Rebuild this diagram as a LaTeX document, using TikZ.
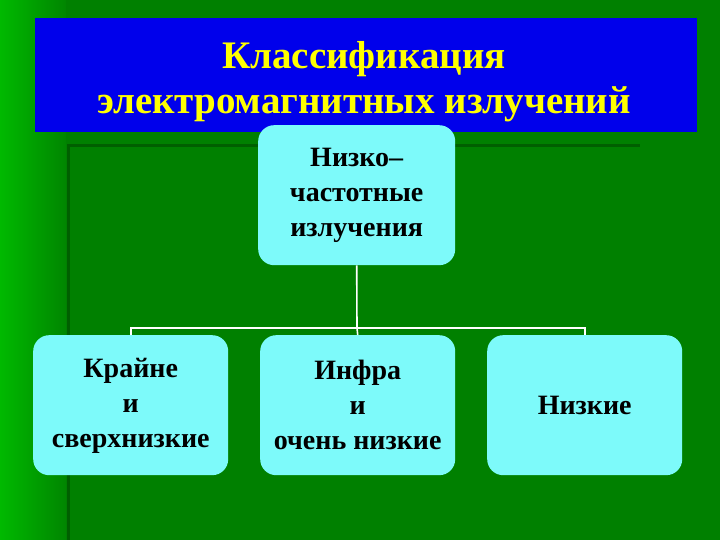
\documentclass[tikz,border=0pt]{standalone}
\usepackage{fontspec}
\setmainfont{Liberation Serif}
\definecolor{bggreen}{RGB}{0,128,0}
\definecolor{litegreen}{RGB}{0,185,0}
\definecolor{darkline}{RGB}{0,95,0}
\definecolor{boxcyan}{RGB}{125,250,250}
\definecolor{titleblue}{RGB}{0,0,235}
\definecolor{titleyellow}{RGB}{255,255,0}
\tikzset{
  box/.style={draw=none,fill=boxcyan,rounded corners=16pt,minimum width=195pt,minimum height=140pt,anchor=north west,align=center,font=\bfseries\fontsize{28}{35}\selectfont,inner sep=0pt},
  conn/.style={draw=white,line width=1.6pt}
}
\begin{document}
\begin{tikzpicture}[x=1pt,y=-1pt]
\useasboundingbox (0,0) rectangle (720,540);
\fill[bggreen] (0,0) rectangle (720,540);
\shade[left color=litegreen,right color=bggreen!90!litegreen] (0,0) rectangle (66,540);
\draw[darkline,line width=3pt] (68,540) -- (68,146) -- (640,146);
\node[fill=titleblue,minimum width=662pt,minimum height=114pt,anchor=north west,inner sep=0pt] (title) at (35,18) {};
\node[text=titleyellow,font=\bfseries\fontsize{39}{45}\selectfont,align=center] (titletext) at (364,82) {Классификация\\электромагнитных излучений};
\node[box,minimum width=197pt] (top) at (258,125) {Низко–\\частотные\\излучения};
\node[box] (b1) at (33,335) {\raisebox{10pt}{\begin{tabular}{@{}c@{}}Крайне\\и\\сверхнизкие\end{tabular}}};
\node[box] (b2) at (260,335) {Инфра\\и\\очень низкие};
\node[box] (b3) at (487,335) {Низкие};
\coordinate (j) at (357,328);
\draw[conn] (top.south) -- (j);
\draw[conn] (b1.north) -- (b1.north |- j) -- (b3.north |- j) -- (b3.north);
\draw[conn] (j) -- (b2.north);
\end{tikzpicture}
\end{document}
